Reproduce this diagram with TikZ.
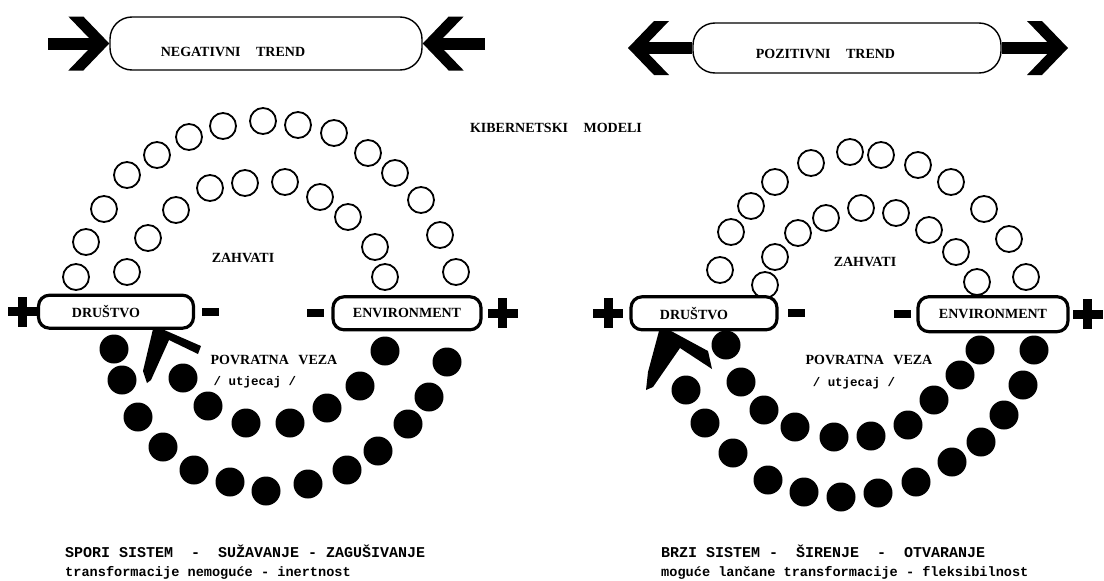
\documentclass[tikz,border=0pt]{standalone}
\usepackage{fontspec}
\setmainfont{Liberation Serif}
\setmonofont{Liberation Mono}
\usepackage{tikz}
\usetikzlibrary{positioning}
\newcommand{\labelfont}{\fontsize{14}{16}\selectfont\bfseries}
\newcommand{\typefont}{\ttfamily\bfseries}
\tikzset{
  trendbox/.style={
    rectangle,
    rounded corners=22pt,
    draw=black,
    line width=1.4pt,
    text depth=0pt,
    font=\labelfont
  },
  sidebox/.style={
    rectangle,
    rounded corners=11pt,
    draw=black,
    fill=white,
    line width=3.2pt,
    minimum width=148pt,
    minimum height=33pt,
    inner sep=0pt,
    font=\labelfont
  },
  opendot/.style={circle, draw=black, line width=1.8pt, minimum size=26pt, inner sep=0pt},
  fulldot/.style={circle, fill=black, minimum size=29pt, inner sep=0pt},
  minusbar/.style={rectangle, fill=black, minimum width=17pt, minimum height=8pt, inner sep=0pt},
  labeltext/.style={font=\labelfont, inner sep=0pt},
  typebig/.style={font=\typefont\fontsize{15}{18}\selectfont, inner sep=0pt, anchor=base west},
  typesmall/.style={font=\typefont\fontsize{13.6}{16}\selectfont, inner sep=0pt, anchor=base west},
  trendshaft/.style={line width=12pt, draw=black, shorten >=15pt},
  chevron/.pic={
    \fill[black] (0,0) -- (-26,-27) -- (-41,-27) -- (-15,0) -- (-41,27) -- (-26,27) -- cycle;
  },
  plussign/.pic={
    \fill[black] (-15,-4.5) rectangle (15,4.5);
    \fill[black] (-4.5,-15) rectangle (4.5,15);
  }
}

\begin{document}
\begin{tikzpicture}[x=1pt, y=-1pt]
\useasboundingbox (0,0) rectangle (1104,581);

% trends
\node[trendbox, minimum width=312pt, minimum height=53pt, text height=26pt] (neg) at (266,43.5) {NEGATIVNI\hspace{12pt} TREND\hspace*{66pt}};
\node[trendbox, minimum width=308pt, minimum height=50pt, text height=20pt] (poz) at (847,48) {POZITIVNI\hspace{12pt} TREND\hspace*{43pt}};
\coordinate (negL) at (48,43.5);
\coordinate (negR) at (485,43.5);
\coordinate (pozL) at (628,48);
\coordinate (pozR) at (1068,48);
\draw[trendshaft] (negL) -- (neg.west);
\draw[trendshaft] (negR) -- (neg.east);
\draw[trendshaft] (poz.west) -- (pozL);
\draw[trendshaft] (poz.east) -- (pozR);
\pic at (neg.west) {chevron};
\pic[rotate=180] at (neg.east) {chevron};
\pic[rotate=180] at (pozL) {chevron};
\pic at (pozR) {chevron};

\node[labeltext] (kib) at (556,128) {KIBERNETSKI\hspace{12pt} MODELI};

% zahvati (open circles)
\foreach \p [count=\i] in {(76,277),(86,242),(104,209),(127,175),(157,155),(189,137),(223,126),(263,121),(298,125),(334,133),(368,153),(395,173),(421,200),(440,235),(456,272)}
  \node[opendot] (oL\i) at \p {};
\foreach \p [count=\i] in {(127,272),(148,238),(176,210),(210,188),(245,183),(285,182),(320,197),(348,217),(375,247),(385,277)}
  \node[opendot] (iL\i) at \p {};
\foreach \p [count=\i] in {(720,270),(731,232),(751,206),(775,182),(811,163),(850,152),(881,155),(918,165),(951,182),(984,209),(1009,239),(1026,277)}
  \node[opendot] (oR\i) at \p {};
\foreach \p [count=\i] in {(765,285),(775,257),(798,233),(826,218),(861,208),(896,213),(929,230),(956,252),(977,282)}
  \node[opendot] (iR\i) at \p {};
\node[labeltext] (zahL) at (243,258) {ZAHVATI};
\node[labeltext] (zahR) at (865,262) {ZAHVATI};

% povratna veza (filled circles)
\foreach \p [count=\i] in {(114,349),(122,380),(138,417),(163,447),(194,470),(230,482),(266,491),(308,484),(347,470),(378,451),(408,424),(429,397),(447,362)}
  \node[fulldot] (fL\i) at \p {};
\foreach \p [count=\i] in {(183,378),(208,406),(246,423),(290,423),(327,408),(360,386),(385,351)}
  \node[fulldot] (gL\i) at \p {};
\foreach \p [count=\i] in {(686,390),(705,423),(733,453),(768,480),(804,492),(841,497),(878,493),(916,482),(952,462),(981,442),(1004,415),(1023,385),(1034,350)}
  \node[fulldot] (fR\i) at \p {};
\foreach \p [count=\i] in {(726,345),(741,382),(764,410),(795,427),(834,437),(871,436),(908,425),(934,400),(960,375),(980,350)}
  \node[fulldot] (gR\i) at \p {};

% drustvo / environment
\node[sidebox, minimum width=155pt] (druL) at (116,311.7) {DRUŠTVO\hspace*{20pt}};
\node[sidebox] (envL) at (407,313.3) {ENVIRONMENT};
\node[sidebox, minimum width=146pt] (druR) at (704,313.3) {DRUŠTVO\hspace*{20pt}};
\node[sidebox, minimum width=150pt, minimum height=35pt] (envR) at (993,314.2) {ENVIRONMENT};
\node[minusbar, right=7pt of druL] (mdL) {};
\node[minusbar, left=7pt of envL] (meL) {};
\node[minusbar, right=9pt of druR] (mdR) {};
\node[minusbar, left=5pt of envR] (meR) {};
\pic at ([xshift=-14pt]druL.west) {plussign};
\pic at ([xshift=20pt]envL.east) {plussign};
\pic at ([xshift=-21pt]druR.west) {plussign};
\pic at ([xshift=18pt]envR.east) {plussign};

% feedback marks under drustvo
\fill[black] (153,329) -- (162,329) -- (201,346) -- (198,354) -- (169,340) -- (151,380) -- (147,383) -- (143,371) -- cycle;
\fill[black] (659,331) -- (671,331) -- (708,351) -- (712,369) -- (680,348) -- (653,387) -- (646,390) -- (648,372) -- cycle;

\node[labeltext] (povL) at (274,360) {POVRATNA\hspace{6pt} VEZA};
\node[labeltext] (povR) at (869,360) {POVRATNA\hspace{6pt} VEZA};
\node[font=\typefont\fontsize{12.5}{14}\selectfont, inner sep=0pt] (utjL) at (255,382) {/ utjecaj /};
\node[font=\typefont\fontsize{12.5}{14}\selectfont, inner sep=0pt] (utjR) at (854,383) {/ utjecaj /};

% bottom captions
\node[typebig] (slowA) at (65,557.5) {SPORI SISTEM\ \ -\ \ SUŽAVANJE - ZAGUŠIVANJE};
\node[typesmall] (slowB) at (65,576.5) {transformacije nemoguće - inertnost};
\node[typebig] (fastA) at (661,557.5) {BRZI SISTEM -\ \ ŠIRENJE\ \ -\ \ OTVARANJE};
\node[typesmall] (fastB) at (661,576.5) {moguće lančane transformacije - fleksibilnost};
\end{tikzpicture}
\end{document}
